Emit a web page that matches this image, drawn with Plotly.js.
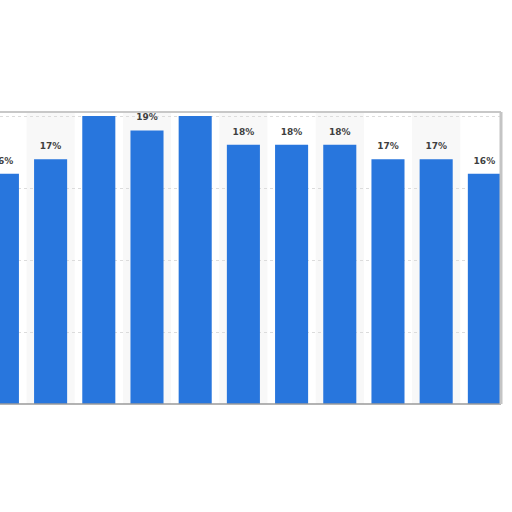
<!DOCTYPE html>
<html>
<head>
<meta charset="utf-8">
<script src="https://cdn.plot.ly/plotly-3.0.1.min.js"></script>
<style>html,body{margin:0;padding:0;background:#fff;}#chart{width:512px;height:512px;}</style>
</head>
<body>
<div id="chart"></div>
<script>
var categories = [0, 1, 2, 3, 4, 5, 6, 7, 8, 9, 10];
var values = [16, 17, 20, 19, 20, 18, 18, 18, 17, 17, 16];
var labels = ['16%', '17%', '20%', '19%', '20%', '18%', '18%', '18%', '17%', '17%', '16%'];

var shapes = [];
categories.forEach(function (c, i) {
  if (i % 2 === 1) {
    shapes.push({type: 'rect', xref: 'x', yref: 'paper', x0: c - 0.5, x1: c + 0.5, y0: 0, y1: 1,
      fillcolor: '#f8f8f8', line: {width: 0}, layer: 'below'});
  }
});
// frame lines (top, bottom, right shadow)
shapes.push({type: 'line', xref: 'paper', yref: 'paper', x0: 0, x1: 1, y0: 1, y1: 1, line: {color: '#c8c8c8', width: 2}});
shapes.push({type: 'line', xref: 'paper', yref: 'paper', x0: 0, x1: 1, y0: 0, y1: 0, line: {color: '#9a9a9a', width: 1.5}});
shapes.push({type: 'line', xref: 'paper', yref: 'paper', x0: 1, x1: 1, y0: 0, y1: 1, line: {color: '#c4c4c4', width: 3}});

var bars = {
  type: 'bar',
  x: categories,
  y: values,
  marker: {color: '#2876dd'},
  width: 0.686,
  offset: -0.343,
  hoverinfo: 'none'
};

// label carrier: same values on an overlaid axis, so the labels sit a little higher
var labelTrace = {
  type: 'bar',
  x: categories,
  y: values,
  yaxis: 'y2',
  text: labels.map(function (t) { return '<b>' + t + '</b>'; }),
  textposition: 'outside',
  cliponaxis: true,
  textfont: {family: 'DejaVu Sans, sans-serif', size: 9, color: '#3f3f3f'},
  marker: {color: 'rgba(0,0,0,0)'},
  width: 0.686,
  offset: -0.343,
  hoverinfo: 'none'
};

var layout = {
  width: 512, height: 512,
  margin: {l: 0, r: 11, t: 112, b: 108, pad: 0},
  paper_bgcolor: '#ffffff',
  plot_bgcolor: '#ffffff',
  showlegend: false,
  xaxis: {range: [-0.05, 10.345], showticklabels: false, showgrid: false, zeroline: false, ticks: '', fixedrange: true},
  yaxis: {range: [0, 20.28], dtick: 5, showticklabels: false, showgrid: true, gridcolor: '#dcdcdc', griddash: 'dot', gridwidth: 1, zeroline: false, ticks: ''},
  yaxis2: {range: [0, 19.88], overlaying: 'y', visible: false, showgrid: false, zeroline: false},
  shapes: shapes
};

Plotly.newPlot('chart', [bars, labelTrace], layout, {displayModeBar: false, staticPlot: true});
</script>
</body>
</html>
